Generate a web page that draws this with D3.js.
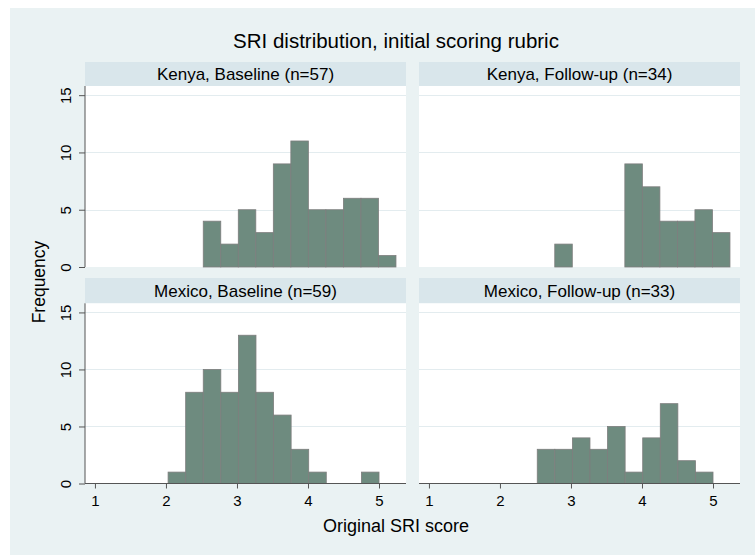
<!DOCTYPE html>
<html>
<head>
<meta charset="utf-8">
<script src="https://cdn.jsdelivr.net/npm/d3@7"></script>
<style>
  html, body { margin: 0; padding: 0; background: #ffffff; }
  svg { display: block; }
  text { font-family: "Liberation Sans", Arial, Helvetica, sans-serif; fill: #000; }
</style>
</head>
<body>
<svg id="chart" width="755" height="555"></svg>
<script>
// ---- data ----
const chartTitle = "SRI distribution, initial scoring rubric";
const xTitle = "Original SRI score";
const yTitle = "Frequency";
const panelTitles = ["Kenya, Baseline (n=57)", "Kenya, Follow-up (n=34)", "Mexico, Baseline (n=59)", "Mexico, Follow-up (n=33)"];
const kenyaBinStart = 2.525;
const kenyaBinWidth = 0.2467;
const mexicoBinStart = 2.03;
const mexicoBinWidth = 0.2475;
const kenyaBaseline = [4, 2, 5, 3, 9, 11, 5, 5, 6, 6, 1];
const kenyaFollowup = [0, 2, 0, 0, 0, 9, 7, 4, 4, 5, 3];
const mexicoBaseline = [1, 8, 10, 8, 13, 8, 6, 3, 1, 0, 0, 1];
const mexicoFollowup = [0, 0, 3, 3, 4, 3, 5, 1, 4, 7, 2, 1];
const xTicks = [1, 2, 3, 4, 5];
const yTicks = [0, 5, 10, 15];
const xDomain = [0.86, 5.38];
const yDomain = [0, 15.8];

// ---- layout ----
const svg = d3.select("#chart");
const colors = {
  region: "#eaf2f3",
  band: "#d9e6eb",
  plot: "#ffffff",
  grid: "#e3ecef",
  bar: "#6e8b7f",
  barStroke: "#7d7d7d",
  axis: "#555555"
};
const cols = [[85, 406], [419, 740]];
const rows = [
  { band: [62, 86], plot: [86, 267] },
  { band: [278, 303.3], plot: [303.3, 483.5] }
];
const panels = [
  { title: panelTitles[0], values: kenyaBaseline, start: kenyaBinStart, width: kenyaBinWidth, c: 0, r: 0 },
  { title: panelTitles[1], values: kenyaFollowup, start: kenyaBinStart, width: kenyaBinWidth, c: 1, r: 0 },
  { title: panelTitles[2], values: mexicoBaseline, start: mexicoBinStart, width: mexicoBinWidth, c: 0, r: 1 },
  { title: panelTitles[3], values: mexicoFollowup, start: mexicoBinStart, width: mexicoBinWidth, c: 1, r: 1 }
];

// outer graph region
svg.append("rect").attr("x", 10).attr("y", 8).attr("width", 745).attr("height", 547).attr("fill", colors.region);

// main title
svg.append("text").attr("x", 396).attr("y", 48).attr("text-anchor", "middle")
  .style("font-size", "20.5px").text(chartTitle);

panels.forEach(p => {
  const [x0, x1] = cols[p.c];
  const row = rows[p.r];
  const x = d3.scaleLinear().domain(xDomain).range([x0, x1]);
  const y = d3.scaleLinear().domain(yDomain).range([row.plot[1], row.plot[0]]);
  const g = svg.append("g");

  // strip band
  g.append("rect").attr("x", x0).attr("y", row.band[0]).attr("width", x1 - x0)
    .attr("height", row.band[1] - row.band[0]).attr("fill", colors.band);
  g.append("text").attr("x", (x0 + x1) / 2).attr("y", row.band[1] - 6.5)
    .attr("text-anchor", "middle").style("font-size", "17px").text(p.title);

  // plot area
  g.append("rect").attr("x", x0).attr("y", row.plot[0]).attr("width", x1 - x0)
    .attr("height", row.plot[1] - row.plot[0]).attr("fill", colors.plot);

  // gridlines
  g.selectAll("line.grid").data(yTicks.filter(t => t > 0)).enter().append("line")
    .attr("x1", x0).attr("x2", x1)
    .attr("y1", d => Math.round(y(d)) + 0.5).attr("y2", d => Math.round(y(d)) + 0.5)
    .attr("stroke", colors.grid).attr("stroke-width", 1);

  // bars
  const bins = p.values.map((v, i) => ({ lo: p.start + i * p.width, hi: p.start + (i + 1) * p.width, v }))
    .filter(b => b.v > 0);
  g.selectAll("rect.bar").data(bins).enter().append("rect")
    .attr("x", b => x(b.lo)).attr("width", b => x(b.hi) - x(b.lo))
    .attr("y", b => y(b.v)).attr("height", b => y(0) - y(b.v))
    .attr("fill", colors.bar).attr("stroke", colors.barStroke).attr("stroke-width", 0.8);

  // y axis (left column only)
  if (p.c === 0) {
    const ya = d3.axisLeft(y).tickValues(yTicks).tickSize(6).tickPadding(6).tickFormat(d3.format("d"));
    const ag = g.append("g").attr("transform", `translate(${x0},0)`).call(ya);
    ag.select(".domain").attr("stroke", colors.axis).attr("d", `M0,${row.plot[0]}V${y(0)}`);
    ag.selectAll(".tick line").attr("stroke", colors.axis);
    ag.selectAll(".tick text")
      .style("font-size", "15px")
      .attr("text-anchor", "middle")
      .attr("x", null).attr("dy", null)
      .attr("transform", "translate(-19,0) rotate(-90)")
      .attr("y", 0).attr("dy", "0.35em");
  }
  // x axis (bottom row only)
  if (p.r === 1) {
    const xa = d3.axisBottom(x).tickValues(xTicks).tickSize(5).tickPadding(7).tickFormat(d3.format("d"));
    const ag = g.append("g").attr("transform", `translate(0,${y(0)})`).call(xa);
    ag.select(".domain").attr("stroke", colors.axis).attr("d", `M${x0},0H${x1}`);
    ag.selectAll(".tick line").attr("stroke", colors.axis);
    ag.selectAll(".tick text").style("font-size", "15px");
  }
});

// axis titles
svg.append("text").attr("x", 396).attr("y", 532).attr("text-anchor", "middle")
  .style("font-size", "18px").text(xTitle);
svg.append("text").attr("transform", "translate(45,282) rotate(-90)").attr("text-anchor", "middle")
  .style("font-size", "17.5px").text(yTitle);
</script>
</body>
</html>
